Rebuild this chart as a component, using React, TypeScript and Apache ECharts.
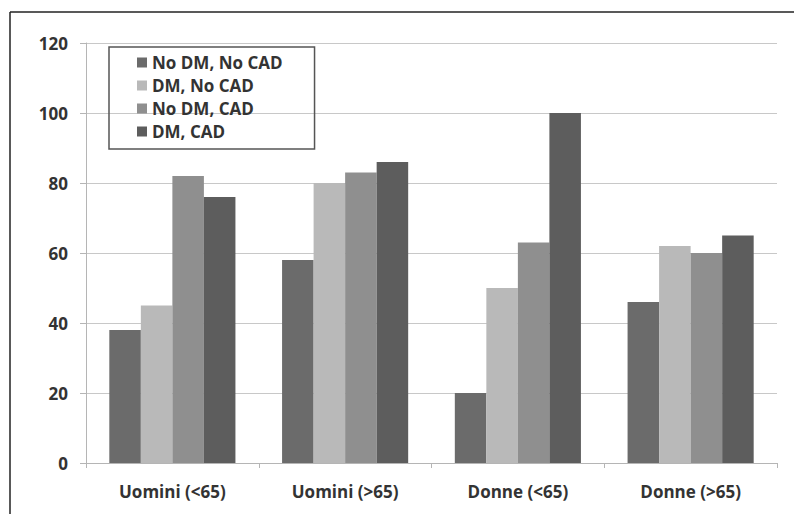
import React, { useEffect, useRef } from "react";
import * as echarts from "echarts";

const categories = ["Uomini (<65)", "Uomini (>65)", "Donne (<65)", "Donne (>65)"];
const seriesNames = ["No DM, No CAD", "DM, No CAD", "No DM, CAD", "DM, CAD"];
const noDmNoCad = [38, 58, 20, 46];
const dmNoCad = [45, 80, 50, 62];
const noDmCad = [82, 83, 63, 60];
const dmCad = [76, 86, 100, 65];
const seriesColors = ["#6b6b6b", "#b9b9b9", "#8f8f8f", "#5d5d5d"];
const yTicks = { min: 0, max: 120, interval: 20 };

export default function App() {
  const ref = useRef<HTMLDivElement>(null);
  useEffect(() => {
    if (!ref.current) return;
    const chart = echarts.init(ref.current, undefined, { renderer: "svg" });
    const values = [noDmNoCad, dmNoCad, noDmCad, dmCad];
    const font = "'Open Sans', 'Liberation Sans', sans-serif";
    chart.setOption({
      animation: false,
      backgroundColor: "#ffffff",
      textStyle: { fontFamily: font },
      grid: { left: 86, right: 17, top: 43, bottom: 51, containLabel: false },
      legend: {
        orient: "vertical",
        left: 109,
        top: 47,
        data: seriesNames,
        icon: "rect",
        itemWidth: 10,
        itemHeight: 10,
        itemGap: 6,
        padding: [7, 32, 9, 28],
        borderColor: "#555555",
        borderWidth: 1.5,
        textStyle: { fontFamily: font, fontWeight: "bold", fontSize: 17, color: "#333333" },
      },
      xAxis: {
        type: "category",
        data: categories,
        axisLine: { show: true, lineStyle: { color: "#b5b5b5", width: 1 } },
        axisTick: { show: true, length: 5, lineStyle: { color: "#b5b5b5" } },
        axisLabel: { margin: 20, fontFamily: font, fontWeight: "bold", fontSize: 17, color: "#333333" },
      },
      yAxis: {
        type: "value",
        min: yTicks.min,
        max: yTicks.max,
        interval: yTicks.interval,
        axisLine: { show: true, lineStyle: { color: "#b5b5b5", width: 1 } },
        axisTick: { show: true, inside: false, length: 6, lineStyle: { color: "#b5b5b5" } },
        axisLabel: { margin: 18, fontFamily: font, fontWeight: "bold", fontSize: 17, color: "#333333" },
        splitLine: { show: true, lineStyle: { color: "#c8c8c8", width: 1.2 } },
      },
      series: seriesNames.map((name, i) => ({
        name,
        type: "bar",
        data: values[i],
        barGap: "0%",
        barCategoryGap: "27%",
        itemStyle: { color: seriesColors[i] },
      })),
      graphic: [
        { type: "line", shape: { x1: 10, y1: 12, x2: 794, y2: 12 }, style: { stroke: "#222222", lineWidth: 1.5 } },
        { type: "line", shape: { x1: 10, y1: 12, x2: 10, y2: 514 }, style: { stroke: "#222222", lineWidth: 1.5 } },
      ],
    });
    return () => chart.dispose();
  }, []);
  return <div ref={ref} style={{ position: "fixed", left: 0, top: 0, width: 794, height: 514 }} />;
}
